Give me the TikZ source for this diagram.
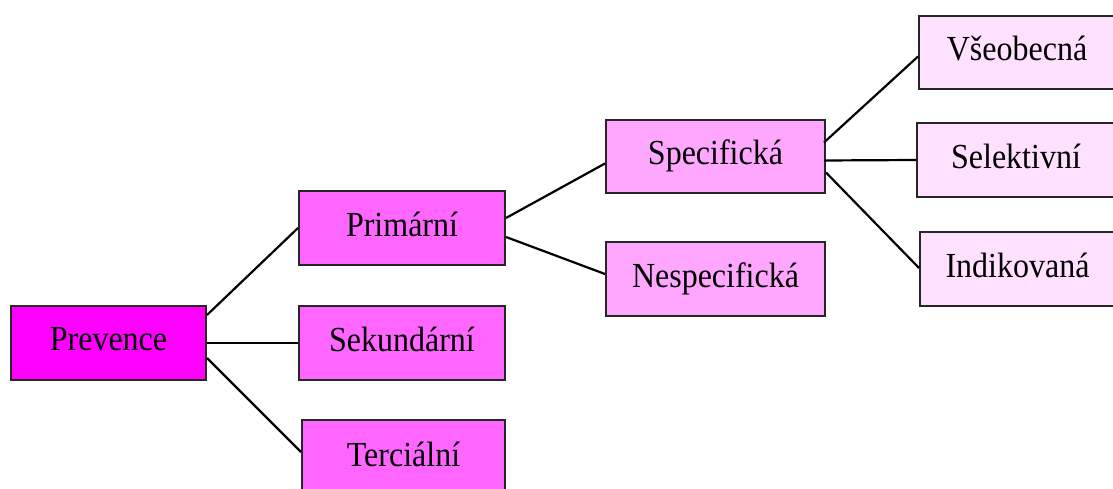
\documentclass[tikz,border=0pt]{standalone}
\usepackage{fontspec}
\usepackage{graphicx}
\setmainfont{Liberation Serif}
\definecolor{c1}{HTML}{FF00FF}
\definecolor{c2}{HTML}{FF66FF}
\definecolor{c3}{HTML}{FFA6FF}
\definecolor{c4}{HTML}{FFE0FF}
\newcommand{\bt}[1]{\raisebox{8pt}{\scalebox{1}[1.1]{#1}}}
\begin{document}
\begin{tikzpicture}[x=1pt,y=-1pt,
  box/.style={draw=black!85,line width=2pt,inner sep=0pt,font=\fontsize{32}{32}\selectfont},
  conn/.style={line width=2.2pt,black}]
\useasboundingbox (0,0) rectangle (1113,489);
\begin{scope}
\clip (0,0) rectangle (1113,489);
\node[box,fill=c1,minimum width=195pt,minimum height=74pt] (prev) at (108.5,343) {\bt{Prevence}};
\node[box,fill=c2,minimum width=206pt,minimum height=74pt] (prim) at (402,228) {\bt{Primární}};
\node[box,fill=c2,minimum width=206pt,minimum height=74pt] (sek) at (402,343) {\bt{Sekundární}};
\node[box,fill=c2,minimum width=203pt,minimum height=76pt] (ter) at (403.5,458) {\bt{Terciální}};
\node[box,fill=c3,minimum width=219pt,minimum height=73pt] (spec) at (715.5,156.5) {\bt{Specifická}};
\node[box,fill=c3,minimum width=219pt,minimum height=74pt] (nesp) at (715.5,279) {\bt{Nespecifická}};
\node[box,fill=c4,minimum width=206pt,minimum height=73pt,anchor=west] (vse) at (918,52.5) {\hspace*{-10pt}\bt{Všeobecná}};
\node[box,fill=c4,minimum width=208pt,minimum height=74pt,anchor=west] (sel) at (916,160) {\hspace*{-10pt}\bt{Selektivní}};
\node[box,fill=c4,minimum width=205pt,minimum height=74pt,anchor=west] (ind) at (919,269) {\hspace*{-10pt}\bt{Indikovaná}};
\end{scope}
\draw[conn] ([yshift=28pt]prev.east) -- (prim.west);
\draw[conn] (prev.east) -- (sek.west);
\draw[conn] ([yshift=-15pt]prev.east) -- ([yshift=6pt]ter.west);
\draw[conn] ([yshift=10pt]prim.east) -- ([yshift=-7pt]spec.west);
\draw[conn] ([yshift=-9pt]prim.east) -- ([yshift=5pt]nesp.west);
\draw[conn] ([xshift=-2pt,yshift=14pt]spec.east) -- ([yshift=-4pt]vse.west);
\draw[conn] ([xshift=-2pt,yshift=-4pt]spec.east) -- (sel.west);
\draw[conn] ([yshift=-16pt]spec.east) -- ([yshift=1pt]ind.west);
\end{tikzpicture}
\end{document}
